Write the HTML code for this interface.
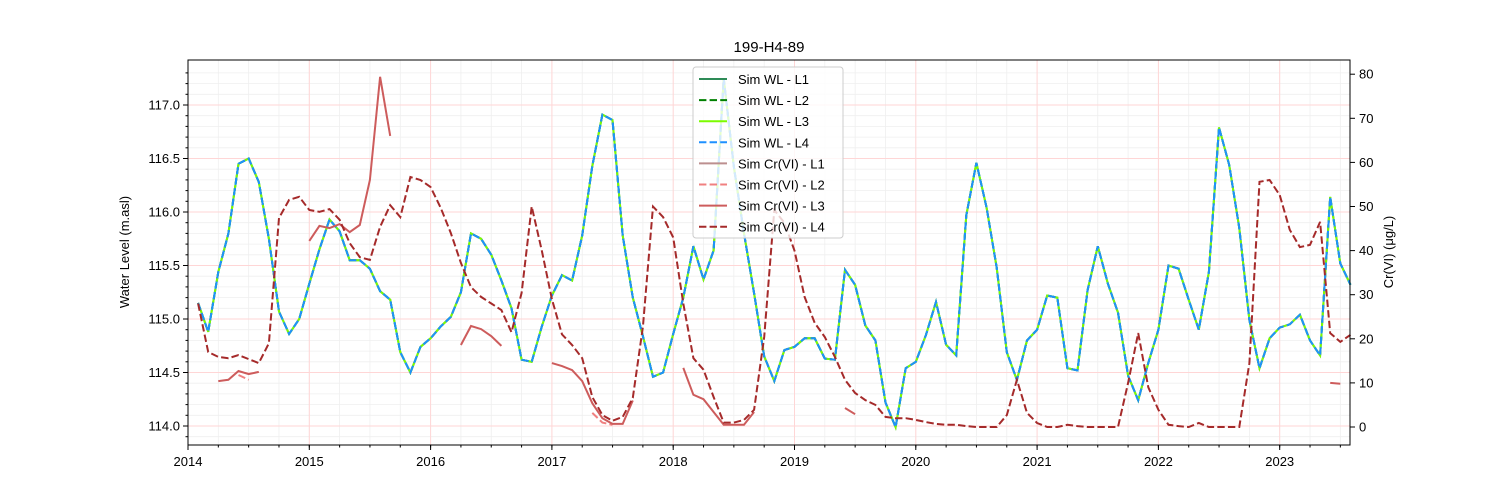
<!DOCTYPE html>
<html><head><meta charset="utf-8"><style>
body{margin:0;background:#fff;}
svg{display:block;font-family:"Liberation Sans","DejaVu Sans",sans-serif;}
</style></head><body>
<svg id="chart" width="1500" height="500" xmlns="http://www.w3.org/2000/svg"></svg>
<script>
const wlValues=[115.15,114.88,115.44,115.8,116.45,116.5,116.28,115.75,115.07,114.86,115.0,115.33,
115.65,115.93,115.82,115.55,115.55,115.47,115.26,115.18,114.69,114.5,114.74,114.82,
114.93,115.02,115.25,115.8,115.75,115.6,115.36,115.1,114.62,114.6,114.93,115.22,
115.41,115.36,115.78,116.43,116.91,116.86,115.78,115.2,114.84,114.46,114.5,114.86,
115.2,115.68,115.37,115.64,117.25,116.42,115.8,115.24,114.65,114.42,114.71,114.74,
114.82,114.82,114.63,114.62,115.46,115.32,114.94,114.8,114.22,113.99,114.54,114.6,
114.85,115.16,114.76,114.66,115.97,116.46,116.04,115.48,114.69,114.43,114.8,114.9,
115.22,115.2,114.54,114.52,115.27,115.68,115.33,115.06,114.47,114.24,114.59,114.9,
115.5,115.47,115.18,114.9,115.44,116.79,116.44,115.85,114.99,114.54,114.82,114.92,
114.95,115.04,114.8,114.66,116.14,115.52,115.32];
const crL4=[28,17,15.9,15.6,16.3,15.4,14.5,19,47.4,51.5,52.2,49.2,
48.8,49.4,47,41.7,38.5,37.9,45.4,50.3,47.6,56.7,56,54.4,
49.7,44,37.2,31.7,29.5,28,26.5,21.5,30.4,50,40,29,
21,18.6,15.6,6.8,2.7,1.4,2.3,6.6,22.7,50,47.6,43,
28,15.6,13,6.8,1,1,1.6,3.9,20.4,49.2,46.3,40,
29.5,23.6,20.4,15.9,10.7,7.7,6.1,5,2.3,2,2,1.6,
1.1,0.7,0.5,0.5,0.2,0,0,0,2.7,10.7,3.2,0.9,
0,0,0.5,0.2,0,0,0,0,10,21.3,9,3.9,
0.5,0.2,0,0.9,0,0,0,0,14.5,55.6,56,52.6,
44.7,40.8,41.3,46.5,21.3,19.3,20.9];
const crL3Points=[[3,10.4],[4,10.7],[5,12.7],[6,12],[7,12.5],
[12,42.2],[13,45.6],[14,45.1],[15,46],[16,44.2],[17,45.8],[18,56],[19,79.4],[20,66],
[27,18.6],[28,22.9],[29,22.2],[30,20.6],[31,18.4],
[36,14.5],[37,13.8],[38,12.9],[39,10.4],[40,5.4],[41,2],[42,0.7],[43,0.7],[44,6],
[49,13.4],[50,7.3],[51,6.3],[52,3.4],[53,0.5],[54,0.5],[55,0.5],[56,3.4],
[65,4.3],[66,2.9],[113,10],[114,9.8]];
const crL2Points=[[5,11.8],[6,10.7],[40,3.2],[41,1],[42,0.5]];
const xTicks=[2014,2015,2016,2017,2018,2019,2020,2021,2022,2023];
const yLeftTicks=[114.0,114.5,115.0,115.5,116.0,116.5,117.0];
const yRightTicks=[0,10,20,30,40,50,60,70,80];

const NS="http://www.w3.org/2000/svg";
const svg=document.getElementById('chart');
const L=188,R=1350,T=60,B=445;
const DASH='7.4,3.2';
const xS=t=>L+(t-2014)*121.3;
const yW=v=>105+(117-v)*107;
const yC=v=>427-v*4.41;
const tOf=i=>2014+(i+1)/12;
function mk(tag,attrs,parent){const e=document.createElementNS(NS,tag);for(const k in attrs)e.setAttribute(k,attrs[k]);(parent||svg).appendChild(e);return e;}

const grid=mk('g',{});


for(let v=113.9;v<=117.35;v+=0.1){const y=yW(v);if(y<T||y>B)continue;mk('line',{x1:L,x2:R,y1:y,y2:y,stroke:'#efefef','stroke-width':0.8},grid);}
for(let t=2014;t<=2023.6;t+=0.25){const x=xS(t);if(x>R)continue;mk('line',{x1:x,x2:x,y1:T,y2:B,stroke:'#efefef','stroke-width':0.8},grid);}
yLeftTicks.forEach(v=>{const y=yW(v);mk('line',{x1:L,x2:R,y1:y,y2:y,stroke:'#ffd6d6','stroke-width':1},grid);});
xTicks.forEach(t=>{const x=xS(t);mk('line',{x1:x,x2:x,y1:T,y2:B,stroke:'#ffd6d6','stroke-width':1},grid);});

function pathFrom(pts){let d='',pen=false;pts.forEach(p=>{if(p==null){pen=false;return;}d+=(pen?'L':'M')+p[0].toFixed(1)+','+p[1].toFixed(1);pen=true;});return d;}
const wlPts=wlValues.map((v,i)=>[xS(tOf(i)),yW(v)]);
const wlStyles=[['sim-wl-l1','#2e8b57',''],['sim-wl-l2','#008000',DASH],['sim-wl-l3','#7cfc00',''],['sim-wl-l4','#1e90ff',DASH]];
wlStyles.forEach(s=>{const p=mk('path',{d:pathFrom(wlPts),fill:'none',stroke:s[1],'stroke-width':2,'stroke-dasharray':s[2]||'none'});

});

function sparse(list){const arr=[];let prev=-5;list.forEach(([i,v])=>{if(i!==prev+1)arr.push(null);arr.push([xS(tOf(i-1)),yC(v)]);prev=i;});return arr;}
const p2=mk('path',{d:pathFrom(sparse(crL2Points)),fill:'none',stroke:'#f08080','stroke-width':2,'stroke-dasharray':DASH});


const p3=mk('path',{d:pathFrom(sparse(crL3Points)),fill:'none',stroke:'#cd5c5c','stroke-width':2});


const p4=mk('path',{d:pathFrom(crL4.map((v,i)=>[xS(tOf(i)),yC(v)])),fill:'none',stroke:'#a52a2a','stroke-width':2,'stroke-dasharray':DASH});



const fr=mk('rect',{x:L,y:T,width:R-L,height:B-T,fill:'none',stroke:'#000','stroke-width':1});



xTicks.forEach(t=>{const x=xS(t);mk('line',{x1:x,x2:x,y1:B,y2:B+5,stroke:'#000'});
const tx=mk('text',{x:x,y:B+21,'text-anchor':'middle','font-size':13,fill:'#000'});tx.textContent=t;

});
for(let t=2014.25;t<2023.6;t+=0.25){const x=xS(t);mk('line',{x1:x,x2:x,y1:B,y2:B+2.5,stroke:'#000'});}
yLeftTicks.forEach(v=>{const y=yW(v);mk('line',{x1:L-5,x2:L,y1:y,y2:y,stroke:'#000'});
const tx=mk('text',{x:L-8,y:y+4.5,'text-anchor':'end','font-size':13,fill:'#000'});tx.textContent=v.toFixed(1);

});
for(let v=113.9;v<=117.35;v+=0.1){const y=yW(v);if(y<T||y>B)continue;mk('line',{x1:L-2.5,x2:L,y1:y,y2:y,stroke:'#000'});}
yRightTicks.forEach(v=>{const y=yC(v);mk('line',{x1:R,x2:R+5,y1:y,y2:y,stroke:'#000'});
const tx=mk('text',{x:R+9,y:y+4.5,'text-anchor':'start','font-size':13,fill:'#000'});tx.textContent=v;

});

const title=mk('text',{x:769,y:52,'text-anchor':'middle','font-size':15,fill:'#000'});title.textContent='199-H4-89';


const yl=mk('text',{x:0,y:0,'text-anchor':'middle','font-size':13,fill:'#000',transform:'translate(129,252) rotate(-90)'});yl.textContent='Water Level (m.asl)';


const yr=mk('text',{x:0,y:0,'text-anchor':'middle','font-size':13,fill:'#000',transform:'translate(1393,252) rotate(-90)'});yr.textContent='Cr(VI) (μg/L)';



const lg=mk('g',{});


mk('rect',{x:693,y:67,width:150,height:171,rx:3,fill:'rgba(255,255,255,0.8)',stroke:'#ccc'},lg);
const legendItems=[['Sim WL - L1','#2e8b57',''],['Sim WL - L2','#008000',DASH],['Sim WL - L3','#7cfc00',''],['Sim WL - L4','#1e90ff',DASH],
['Sim Cr(VI) - L1','#bc8f8f',''],['Sim Cr(VI) - L2','#f08080',DASH],['Sim Cr(VI) - L3','#cd5c5c',''],['Sim Cr(VI) - L4','#a52a2a',DASH]];
legendItems.forEach((it,k)=>{const y=79+k*21.1;
const g=mk('g',{},lg);


mk('line',{x1:699,x2:727,y1:y,y2:y,stroke:it[1],'stroke-width':2,'stroke-dasharray':it[2]||'none'},g);
const tx=mk('text',{x:738,y:y+5,'font-size':13,fill:'#000'},g);tx.textContent=it[0];});
</script>
</body></html>
